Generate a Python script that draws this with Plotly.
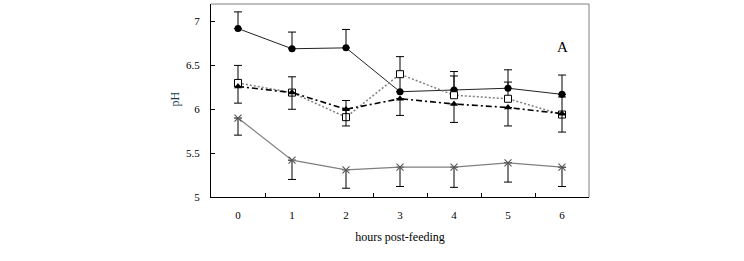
import plotly.graph_objects as go

hours = [0, 1, 2, 3, 4, 5, 6]
hour_labels = ["0", "1", "2", "3", "4", "5", "6"]

circle_vals = [6.92, 6.69, 6.70, 6.20, 6.22, 6.24, 6.17]
circle_err_plus = [0.19, 0.19, 0.21, 0.19, 0.21, 0.21, 0.22]

square_vals = [6.30, 6.19, 5.91, 6.40, 6.16, 6.12, 5.94]
square_err_plus = [0.20, 0.18, 0.19, 0.20, 0.22, 0.19, 0.20]

triangle_vals = [6.26, 6.19, 6.00, 6.12, 6.06, 6.02, 5.95]
triangle_err_minus = [0.19, 0.19, 0.19, 0.19, 0.21, 0.21, 0.21]

cross_vals = [5.90, 5.42, 5.31, 5.34, 5.34, 5.39, 5.34]
cross_err_minus = [0.195, 0.22, 0.21, 0.22, 0.23, 0.22, 0.22]

y_ticks = [5, 5.5, 6, 6.5, 7]
y_tick_labels = ["5", "5.5", "6", "6.5", "7"]

FONT = "Liberation Serif, Times New Roman, serif"

fig = go.Figure()

fig.add_trace(go.Scatter(
    x=hours, y=cross_vals, mode="lines+markers",
    line=dict(color="#7f7f7f", width=1.2),
    marker=dict(symbol="x-thin", size=7, line=dict(color="#555555", width=1.1)),
    error_y=dict(type="data", symmetric=False, array=[0]*7, arrayminus=cross_err_minus,
                 color="black", thickness=1, width=4),
    showlegend=False))

fig.add_trace(go.Scatter(
    x=hours, y=circle_vals, mode="lines+markers",
    line=dict(color="#222222", width=1),
    marker=dict(symbol="circle", size=7, color="black"),
    error_y=dict(type="data", symmetric=False, array=circle_err_plus, arrayminus=[0]*7,
                 color="black", thickness=1, width=4),
    showlegend=False))

fig.add_trace(go.Scatter(
    x=hours, y=square_vals, mode="lines+markers",
    line=dict(color="#808080", width=1.5, dash="2px,2px"),
    marker=dict(symbol="square", size=7, color="white", line=dict(color="black", width=1)),
    error_y=dict(type="data", symmetric=False, array=square_err_plus, arrayminus=[0]*7,
                 color="black", thickness=1, width=4),
    showlegend=False))

fig.add_trace(go.Scatter(
    x=hours, y=triangle_vals, mode="lines+markers",
    line=dict(color="black", width=1.6, dash="6px,3px,2px,3px"),
    marker=dict(symbol="triangle-up", size=7, color="black"),
    error_y=dict(type="data", symmetric=False, array=[0]*7, arrayminus=triangle_err_minus,
                 color="black", thickness=1, width=4),
    showlegend=False))

fig.update_layout(
    width=744, height=261,
    margin=dict(l=211, r=155, t=4, b=64),
    paper_bgcolor="white", plot_bgcolor="white",
    font=dict(family=FONT, size=11, color="black"),
    xaxis=dict(
        range=[-0.5, 6.5], tickmode="array", tickvals=hours, ticktext=hour_labels,
        ticks="", showline=True, linecolor="black", linewidth=1, showgrid=False,
        zeroline=False, ticklabelstandoff=8,
        minor=dict(tickmode="array", tickvals=[0.5, 1.5, 2.5, 3.5, 4.5, 5.5],
                   ticks="inside", ticklen=4, tickcolor="black", showgrid=False),
        title=dict(text="hours post-feeding", font=dict(family=FONT, size=12), standoff=12),
    ),
    yaxis=dict(
        range=[5, 7.2], tickmode="array", tickvals=y_ticks, ticktext=y_tick_labels,
        ticks="inside", ticklen=4, tickcolor="black",
        showline=True, linecolor="black", linewidth=1, showgrid=False, zeroline=False,
        ticklabelstandoff=8,
    ),
    shapes=[
        dict(type="line", xref="paper", yref="paper", x0=0, x1=1, y0=1, y1=1,
             line=dict(color="#808080", width=1)),
        dict(type="line", xref="paper", yref="paper", x0=1, x1=1, y0=0, y1=1,
             line=dict(color="#808080", width=1)),
    ],
    annotations=[
        dict(text="pH", xref="paper", yref="paper", x=-0.0966, y=0.508, showarrow=False,
             xanchor="center", yanchor="middle",
             textangle=-90, font=dict(family=FONT, size=12, color="#1a3d4a")),
        dict(text="A", xref="x", yref="y", x=6.0, y=6.71, showarrow=False,
             font=dict(family=FONT, size=15, color="black")),
    ],
)

fig.write_html("out.html", config={"displayModeBar": False},
               post_script="document.body.style.margin='0';document.body.style.padding='0';")
